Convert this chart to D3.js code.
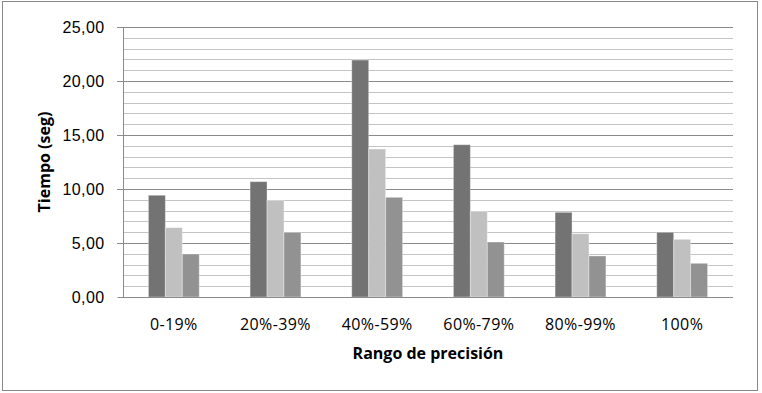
<!DOCTYPE html>
<html>
<head>
<meta charset="utf-8">
<script src="https://cdn.jsdelivr.net/npm/d3@7"></script>
<style>
  * { margin: 0; padding: 0; box-sizing: border-box; }
  body { background: #fff; width: 762px; height: 393px; overflow: hidden; }
  svg { display: block; font-family: "Open Sans", "Noto Sans", sans-serif; }
  .tick-label { font-size: 16px; letter-spacing: 0.4px; fill: #000; }
  .axis-title { font-size: 16px; font-weight: 700; fill: #000; }
</style>
</head>
<body>
<svg id="chart" width="762" height="393"></svg>
<script>
// data
const categories = ["0-19%", "20%-39%", "40%-59%", "60%-79%", "80%-99%", "100%"];
const serie1 = [9.42, 10.68, 21.94, 14.10, 7.84, 5.99];
const serie2 = [6.42, 8.95, 13.70, 7.93, 5.86, 5.34];
const serie3 = [3.98, 5.99, 9.23, 5.09, 3.80, 3.12];
const yTicks = [0, 5, 10, 15, 20, 25];
const yTitle = "Tiempo (seg)";
const xTitle = "Rango de precisión";

const series = [
  { name: "serie1", values: serie1, color: "#737373" },
  { name: "serie2", values: serie2, color: "#c0c0c0" },
  { name: "serie3", values: serie3, color: "#929292" }
];

const svg = d3.select("#chart");
const plot = { left: 123, right: 733, top: 27, bottom: 297 };

// outer frame
svg.append("rect")
  .attr("x", 2.5).attr("y", 1.5)
  .attr("width", 755).attr("height", 389)
  .attr("fill", "#fff")
  .attr("stroke", "#888").attr("stroke-width", 1);

const x = d3.scaleBand()
  .domain(categories)
  .range([plot.left, plot.right])
  .paddingInner(0.5)
  .paddingOuter(0.25);

const xs = d3.scaleBand()
  .domain(series.map(s => s.name))
  .range([0, x.bandwidth()]);

const y = d3.scaleLinear()
  .domain([0, 25])
  .range([plot.bottom, plot.top]);

// minor gridlines
svg.append("g")
  .selectAll("line")
  .data(d3.range(0, 26, 1).filter(v => v % 5 !== 0))
  .join("line")
  .attr("x1", plot.left).attr("x2", plot.right)
  .attr("y1", d => Math.round(y(d)) + 0.5).attr("y2", d => Math.round(y(d)) + 0.5)
  .attr("stroke", "#c4c4c4");

// major gridlines
svg.append("g")
  .selectAll("line")
  .data(yTicks.filter(v => v > 0))
  .join("line")
  .attr("x1", plot.left - 6).attr("x2", plot.right)
  .attr("y1", d => Math.round(y(d)) + 0.5).attr("y2", d => Math.round(y(d)) + 0.5)
  .attr("stroke", "#8a8a8a");

// y axis
const yAxis = svg.append("g")
  .attr("transform", `translate(${plot.left + 0.5},0)`)
  .call(d3.axisLeft(y).tickValues(yTicks).tickSize(6).tickPadding(13)
    .tickFormat(d => d3.format(".2f")(d).replace(".", ",")));
yAxis.select(".domain").attr("stroke", "#8a8a8a").attr("d", `M0,${plot.top}V${plot.bottom}`);
yAxis.selectAll(".tick line").attr("stroke", "#8a8a8a");
yAxis.selectAll(".tick text")
  .attr("class", "tick-label")
  .attr("font-family", null).attr("font-size", null);

// bars
const groups = svg.append("g")
  .selectAll("g")
  .data(categories)
  .join("g")
  .attr("transform", d => `translate(${x(d)},0)`);

groups.selectAll("rect")
  .data((d, i) => series.map(s => ({ name: s.name, value: s.values[i], color: s.color })))
  .join("rect")
  .attr("x", d => xs(d.name))
  .attr("y", d => y(d.value))
  .attr("width", xs.bandwidth())
  .attr("height", d => plot.bottom - y(d.value))
  .attr("fill", d => d.color)
  .attr("stroke", "rgba(255,255,255,0.35)")
  .attr("stroke-width", 1);

// x axis baseline
svg.append("line")
  .attr("x1", plot.left).attr("x2", plot.right)
  .attr("y1", plot.bottom + 0.5).attr("y2", plot.bottom + 0.5)
  .attr("stroke", "#8a8a8a");

// category labels
svg.append("g")
  .selectAll("text")
  .data(categories)
  .join("text")
  .attr("class", "tick-label")
  .attr("x", d => x(d) + x.bandwidth() / 2)
  .attr("y", 330)
  .attr("text-anchor", "middle")
  .text(d => d);

// axis titles
svg.append("text")
  .attr("class", "axis-title")
  .attr("x", (plot.left + plot.right) / 2)
  .attr("y", 359)
  .attr("text-anchor", "middle")
  .text(xTitle);

svg.append("text")
  .attr("class", "axis-title")
  .attr("transform", "translate(50,162) rotate(-90)")
  .attr("text-anchor", "middle")
  .text(yTitle);
</script>
</body>
</html>
